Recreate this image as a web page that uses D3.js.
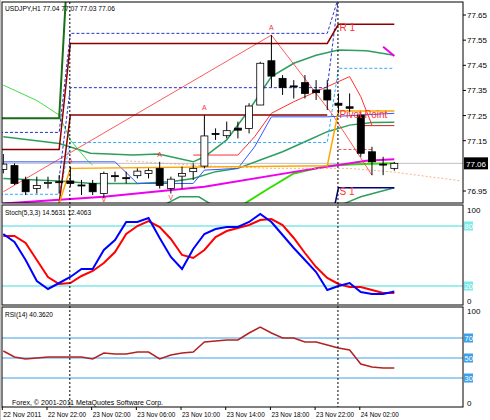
<!DOCTYPE html>
<html><head><meta charset="utf-8">
<script src="https://cdn.jsdelivr.net/npm/d3@7"></script>
<style>body{margin:0;background:#fff}svg{display:block}text{font-family:"Liberation Sans",Arial,sans-serif}</style>
</head><body><svg id="chart" width="490" height="420"></svg>
<script>
// USDJPY H1 bars
const open  = [77.036,77.051,76.994,76.960,76.983,76.987,76.990,76.974,76.980,76.940,77.011,77.003,77.011,77.020,77.040,76.960,77.009,77.027,77.049,77.179,77.170,77.200,77.199,77.292,77.468,77.398,77.368,77.381,77.352,77.352,77.299,77.285,77.252,77.106,77.057,77.040];
const high  = [77.097,77.060,77.007,77.007,77.007,77.013,77.047,76.994,76.994,77.027,77.027,77.027,77.040,77.040,77.066,77.007,77.047,77.060,77.252,77.199,77.226,77.226,77.299,77.464,77.570,77.411,77.391,77.411,77.391,77.391,77.338,77.338,77.259,77.126,77.086,77.066];
const low   = [77.020,76.974,76.934,76.940,76.960,76.940,76.967,76.934,76.934,76.921,76.987,76.980,77.000,77.000,76.960,76.940,76.960,76.994,77.040,77.153,77.159,77.159,77.179,77.292,77.362,77.332,77.318,77.318,77.312,77.272,77.259,77.265,77.086,77.013,77.013,77.031];
const close = [77.057,76.980,76.947,76.972,76.984,76.987,76.980,76.974,76.947,77.020,77.011,77.003,77.029,77.031,76.972,76.997,77.020,77.040,77.169,77.179,77.190,77.192,77.288,77.458,77.407,77.362,77.368,77.338,77.341,77.312,77.291,77.279,77.100,77.066,77.057,77.060];
const stochMain   = [72,64,46,25,17,23,29,37,37,56,66,84,84,88,68,49,37,57,72,77,79,79,84,92,84,71,58,46,34,16,20,23,14,12,12,14.5];
const stochSignal = [70,70,63,46,29,22,23,30,35,43,54,72,80,85,79,67,51,48,56,69,75,78,81,86,87,81,68,53,39,28,22,19,19,16,13,13];
const rsi = [57,51,49,50,51,51,51,51,49,55,54,54,56,56,49,53,55,56,66,67,68,68,75,81,75,70,70,66,66,63,60,58,44,41,40,40];
const timeLabels = [[0,"22 Nov 2011"],[4,"22 Nov 22:00"],[8,"23 Nov 02:00"],[12,"23 Nov 06:00"],[16,"23 Nov 10:00"],[20,"23 Nov 14:00"],[24,"23 Nov 18:00"],[28,"23 Nov 22:00"],[32,"24 Nov 02:00"]];
const priceTicks = [77.65,77.55,77.45,77.35,77.25,77.15,76.95];
const lastPrice = 77.06;
const separators = [6,30];

// indicator lines [bar, price]
const overlays = [
  {c:"#2e9e5e", w:1.5, d:[[0,77.166],[5,77.139],[7.8,77.10],[11.6,77.093],[13.9,77.097],[17,77.066],[18,77.086],[20,77.153],[22,77.272],[24,77.405],[26,77.458],[28,77.49],[30,77.511],[32.5,77.508],[35,77.49]]},
  {c:"#2e9e5e", w:1.5, d:[[0,77.0],[5,76.99],[8,76.98],[12,76.98],[15,76.987],[17,77.0],[19,77.027],[21,77.04],[23,77.073],[25,77.106],[27,77.146],[29,77.186],[31,77.212],[33,77.222],[35,77.223]]},
  {c:"#2e9e5e", w:1.5, d:[[14.6,76.90],[15.8,76.927],[17.5,76.927],[18.5,76.90]]},
  {c:"#2e9e5e", w:1.5, d:[[30.5,76.90],[32,76.927],[35,76.963]]},
  {c:"#44dd44", w:1, d:[[0,77.371],[3,77.31],[5,77.252],[6,77.153],[7.5,77.073],[8,77.053]]},
  {c:"#33dd00", w:2, d:[[21.6,76.90],[23.5,76.953],[26,77.02],[29,77.05],[32,77.057],[35,77.06]]},
  {c:"#ee00ee", w:2, d:[[0,76.90],[9,76.927],[18,76.967],[27,77.033],[32.5,77.07],[35,77.076]]},
  {c:"#ee00ee", w:2, d:[[34,77.524],[35,77.487]]},
  {c:"#ff3030", w:1, d:[[17,77.093],[21,77.093],[22.5,77.166],[24,77.259],[26,77.305],[29,77.365],[31,77.405],[32,77.325],[33,77.212]]},
  {c:"#ff3030", w:0.8, d:[[0,76.947],[24,77.570],[29.5,77.252],[33,77.013]]},
  {c:"#3355ff", w:1, d:[[0,77.066],[10,77.066],[12,76.98],[17,76.98],[18,77.033],[21,77.04],[22.5,77.126],[24,77.245],[29,77.245],[35,77.259]]},
  {c:"#2233cc", w:1, dash:"3,2", d:[[-0.3,77.183],[5,77.183],[6,77.577],[29,77.577],[30,77.72]]},
  {c:"#2233cc", w:1, dash:"3,2", d:[[5,77.0],[6,77.361],[29,77.361],[30,77.72]]},
  {c:"#33aaff", w:1, dash:"3,2", d:[[-0.3,76.937],[5,76.937],[6,77.143],[29,77.143],[30,77.438],[35,77.438]]},
  {c:"#ff5050", w:1, dash:"3,2", d:[[30,77.115],[33,77.115]]},
  {c:"#f4a070", w:0.8, dash:"2,2", d:[[11,77.07],[18,77.05],[24,77.04],[31,77.04],[35,77.025],[41,76.99]]},
  {c:"#8b0000", w:1.5, d:[[-0.3,77.115],[5,77.115],[6,77.537],[29,77.537],[30,77.613],[35,77.613]]},
  {c:"#8b0000", w:1.5, d:[[5,76.90],[6,77.252],[29,77.252]]},
  {c:"#cc2222", w:1, d:[[32,77.21],[35,77.21]]},
  {c:"#ffa500", w:1.5, d:[[5,76.90],[6,77.04],[29,77.05],[30,77.268],[35,77.268]]},
  {c:"#1a6e1a", w:2, d:[[-0.3,77.239],[5,77.239],[5.6,77.72]]},
  {c:"#000080", w:1.5, d:[[29.7,76.90],[30,76.963],[35,76.963]]}
];
const levelLabels = [[30.1,77.585,"R 1"],[30.1,77.24,"Pivot Point"],[30.1,76.935,"S 1"]];
const arrows = [[24,77.592,"A"],[18,77.272,"A"],[6,77.06,"A"],[14,77.087,"A"],[9,76.905,"V"],[15,76.915,"V"]];

const svg = d3.select("#chart");
const L = 2, R = 463;
const x = d3.scaleLinear().domain([0,35]).range([3.3,394.3]);
const y = d3.scaleLinear().domain([76.95,77.65]).range([191,15]);
const yS = d3.scaleLinear().domain([0,100]).range([306,206]);
const yR = d3.scaleLinear().domain([0,100]).range([408,308]);
const panels = [[2,203],[205,305],[307,407]];

svg.append("rect").attr("x",0).attr("y",0).attr("width",490).attr("height",420).attr("fill","#fff");
const defs = svg.append("defs");
panels.forEach((p,i)=>defs.append("clipPath").attr("id","c"+i).append("rect")
  .attr("x",L).attr("y",p[0]).attr("width",R-L).attr("height",p[1]-p[0]));

const main = svg.append("g").attr("clip-path","url(#c0)");
const line = d3.line().x(d=>x(d[0])).y(d=>y(d[1]));
main.append("line").attr("x1",L).attr("x2",R).attr("y1",y(lastPrice)).attr("y2",y(lastPrice)).attr("stroke","#c0c0c0");
overlays.forEach(o=>main.append("path").attr("d",line(o.d)).attr("fill","none")
  .attr("stroke",o.c).attr("stroke-width",o.w).attr("stroke-dasharray",o.dash||null));

const idx = d3.range(open.length);
main.selectAll(".wick").data(idx).join("line")
  .attr("x1",i=>x(i)).attr("x2",i=>x(i)).attr("y1",i=>y(high[i])).attr("y2",i=>y(low[i]))
  .attr("stroke","#000");
main.selectAll(".body").data(idx).join("rect")
  .attr("x",i=>x(i)-3.5).attr("width",7)
  .attr("y",i=>y(Math.max(open[i],close[i])))
  .attr("height",i=>Math.max(1,Math.abs(y(open[i])-y(close[i]))))
  .attr("fill",i=>close[i]>open[i]?"#fff":"#000").attr("stroke","#000").attr("stroke-width",0.8);

main.selectAll(".lvl").data(levelLabels).join("text")
  .attr("x",d=>x(d[0])).attr("y",d=>y(d[1])).attr("fill","#ff3030").attr("font-size",10).text(d=>d[2]);
main.selectAll(".arr").data(arrows).join("text")
  .attr("x",d=>x(d[0])).attr("y",d=>y(d[1])).attr("text-anchor","middle").attr("fill","#ff3030")
  .attr("font-size",7).text(d=>d[2]);

// stochastic
const st = svg.append("g").attr("clip-path","url(#c1)");
[80,20].forEach(v=>st.append("line").attr("x1",L).attr("x2",R).attr("y1",yS(v)).attr("y2",yS(v)).attr("stroke","#7fe8e8").attr("stroke-width",1.5));
const ls = d3.line().x((d,i)=>x(i)).y(d=>yS(d));
st.append("path").attr("d",ls(stochSignal)).attr("fill","none").attr("stroke","#ff0000").attr("stroke-width",2);
st.append("path").attr("d",ls(stochMain)).attr("fill","none").attr("stroke","#0000ff").attr("stroke-width",2);

// RSI
const rs = svg.append("g").attr("clip-path","url(#c2)");
[[70,1],[50,2],[30,1]].forEach(v=>rs.append("line").attr("x1",L).attr("x2",R).attr("y1",yR(v[0])).attr("y2",yR(v[0]))
  .attr("stroke",v[0]==50?"#9fd0f5":"#3ea0e8").attr("stroke-width",v[1]));
rs.append("path").attr("d",d3.line().x((d,i)=>x(i)).y(d=>yR(d))(rsi)).attr("fill","none").attr("stroke","#b22222").attr("stroke-width",1.5);

// separators
separators.forEach(b=>svg.append("line").attr("x1",x(b)-0.5).attr("x2",x(b)-0.5).attr("y1",2).attr("y2",407)
  .attr("stroke","#000").attr("stroke-dasharray","2,2"));

// frames
panels.forEach(p=>svg.append("rect").attr("x",L).attr("y",p[0]).attr("width",R-L).attr("height",p[1]-p[0])
  .attr("fill","none").attr("stroke","#000"));
svg.append("line").attr("x1",0).attr("x2",0).attr("y1",0).attr("y2",420).attr("stroke","#888");

// price axis
const ax = svg.append("g").attr("font-size",8);
priceTicks.forEach(p=>{
  ax.append("line").attr("x1",R).attr("x2",R+3).attr("y1",y(p)).attr("y2",y(p)).attr("stroke","#000");
  ax.append("text").attr("x",R+4).attr("y",y(p)+3).text(p.toFixed(2));
});
ax.append("rect").attr("x",R+1).attr("y",y(lastPrice)-6).attr("width",24).attr("height",12).attr("fill","#000");
ax.append("text").attr("x",R+3).attr("y",y(lastPrice)+3.5).attr("fill","#fff").text(lastPrice.toFixed(2));
ax.append("text").attr("x",R+4).attr("y",yS(100)+7).text("100");
ax.append("text").attr("x",R+4).attr("y",yS(0)-2).text("0");
[80,20].forEach(v=>{ax.append("rect").attr("x",R+1).attr("y",yS(v)-4.5).attr("width",9).attr("height",9).attr("fill","#7fe8e8");
  ax.append("text").attr("x",R+1.5).attr("y",yS(v)+3).attr("fill","#fff").attr("font-size",7.5).text(v);});
ax.append("text").attr("x",R+4).attr("y",yR(100)+6).text("100");
ax.append("text").attr("x",R+4).attr("y",yR(0)-2).text("0");
[70,50,30].forEach(v=>{ax.append("rect").attr("x",R+1).attr("y",yR(v)-4.5).attr("width",9).attr("height",9).attr("fill","#3ea0e8");
  ax.append("text").attr("x",R+1.5).attr("y",yR(v)+3).attr("fill","#fff").attr("font-size",7.5).text(v);});

// time axis
timeLabels.forEach(t=>{
  const xx = x(t[0])-1;
  ax.append("line").attr("x1",xx).attr("x2",xx).attr("y1",407).attr("y2",410).attr("stroke","#000");
  ax.append("text").attr("x",xx+1).attr("y",417).attr("textLength",38).attr("lengthAdjust","spacingAndGlyphs").text(t[1]);
});

// titles
const tt = svg.append("g").attr("font-size",8);
[[5,11,110,"USDJPY,H1  77.04 77.07 77.03 77.06"],[5,215,86,"Stoch(5,3,3) 14.5631 12.4063"],
 [5,317,48,"RSI(14) 40.3620"],[12,405,151,"Forex, © 2001-2011 MetaQuotes Software Corp."]]
  .forEach(d=>tt.append("text").attr("x",d[0]).attr("y",d[1]).attr("textLength",d[2]).attr("lengthAdjust","spacingAndGlyphs").text(d[3]));
</script></body></html>
